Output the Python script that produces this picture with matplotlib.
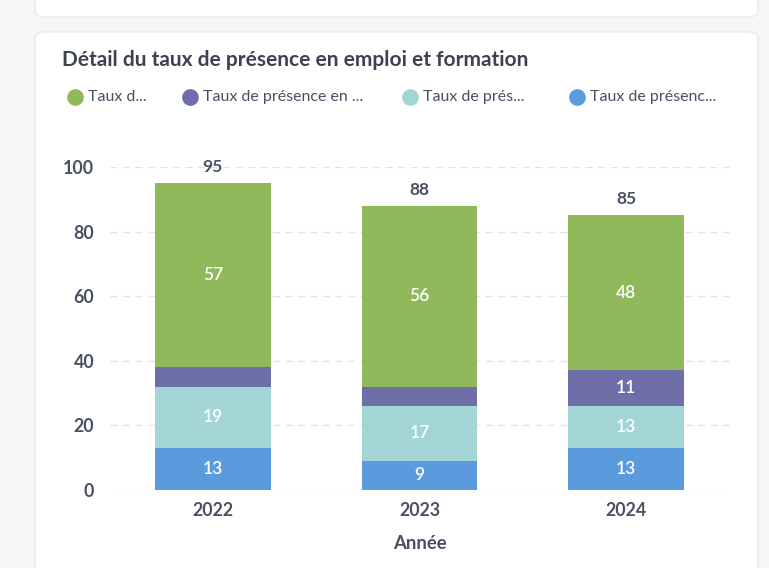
import matplotlib.pyplot as plt
import numpy as np
from matplotlib.patches import FancyBboxPatch
from matplotlib.lines import Line2D

plt.rcParams['font.family'] = ['Lato', 'DejaVu Sans']

# data
years = ["2022", "2023", "2024"]
blue_vals = [13, 9, 13]
teal_vals = [19, 17, 13]
purple_vals = [6, 6, 11]
green_vals = [57, 56, 48]
totals = [95, 88, 85]
legend_labels = ["Taux d...", "Taux de présence en ...", "Taux de prés...", "Taux de présenc..."]

green = "#8fb95a"
purple = "#6e6ea8"
teal = "#a2d5d4"
blue = "#5c9ade"
text_col = "#4a5063"

fig = plt.figure(figsize=(7.69, 5.68), dpi=100)
fig.patch.set_facecolor("#f5f6f8")

# cards behind the chart
W, H = 769, 568
def card(x0, y0, x1, y1):
    p = FancyBboxPatch((x0 / W, 1 - y1 / H), (x1 - x0) / W, (y1 - y0) / H,
                       boxstyle="round,pad=0,rounding_size=0.012",
                       transform=fig.transFigure, facecolor="white",
                       edgecolor="#e8e9ec", linewidth=1.0, zorder=0)
    fig.add_artist(p)

card(35, -30, 758, 17)
card(35, 32, 758, 600)

ax = fig.add_axes([109.5 / W, 1 - 490 / H, 620 / W, 323 / H])
ax.set_facecolor("none")

x = np.arange(len(years))
w = 0.56
b1 = np.array(blue_vals)
b2 = b1 + np.array(teal_vals)
b3 = b2 + np.array(purple_vals)

ax.bar(x, blue_vals, w, color=blue, zorder=2)
ax.bar(x, teal_vals, w, bottom=b1, color=teal, zorder=2)
ax.bar(x, purple_vals, w, bottom=b2, color=purple, zorder=2)
ax.bar(x, green_vals, w, bottom=b3, color=green, zorder=2)

# segment labels (small purple segments unlabeled)
lab_kw = dict(ha="center", va="center", color="white", fontsize=12.5,
              fontweight="semibold", zorder=3)
for i in range(len(years)):
    ax.text(x[i], blue_vals[i] / 2, str(blue_vals[i]), **lab_kw)
    ax.text(x[i], b1[i] + teal_vals[i] / 2, str(teal_vals[i]), **lab_kw)
    if purple_vals[i] >= 10:
        ax.text(x[i], b2[i] + purple_vals[i] / 2, str(purple_vals[i]), **lab_kw)
    ax.text(x[i], b3[i] + green_vals[i] / 2, str(green_vals[i]), **lab_kw)
    ax.text(x[i], totals[i] + 2.5, str(totals[i]), ha="center", va="bottom",
            color=text_col, fontsize=12.5, fontweight="bold", zorder=3, clip_on=False)

ax.set_xlim(-0.5, 2.5)
ax.set_ylim(0, 100)
ax.set_yticks([0, 20, 40, 60, 80, 100])
ax.set_xticks(x)
ax.set_xticklabels(years)
ax.grid(axis="y", color="#e3e4e8", linestyle=(0, (5, 4)), linewidth=1, zorder=0)
for s in ax.spines.values():
    s.set_visible(False)
ax.tick_params(length=0, labelsize=12.8, labelcolor=text_col)
ax.xaxis.set_tick_params(pad=9)
ax.yaxis.set_tick_params(pad=11)
for lbl in ax.get_xticklabels() + ax.get_yticklabels():
    lbl.set_fontweight("bold")
ax.set_xlabel("Année", fontsize=13.3, color=text_col, fontweight="bold", labelpad=11)

fig.text(62 / W, 1 - 60 / H, "Détail du taux de présence en emploi et formation",
         fontsize=15, fontweight="bold", color="#3c4252", va="center")

dot_x = [75, 190, 410, 577]
cols = [green, purple, teal, blue]
for dx, c, lab in zip(dot_x, cols, legend_labels):
    fig.add_artist(Line2D([dx / W], [1 - 97 / H], marker="o", markersize=11,
                          color=c, transform=fig.transFigure))
    fig.text((dx + 13) / W, 1 - 97 / H, lab, fontsize=11.5, color=text_col,
             va="center")

fig.savefig("out.png", dpi=100)
